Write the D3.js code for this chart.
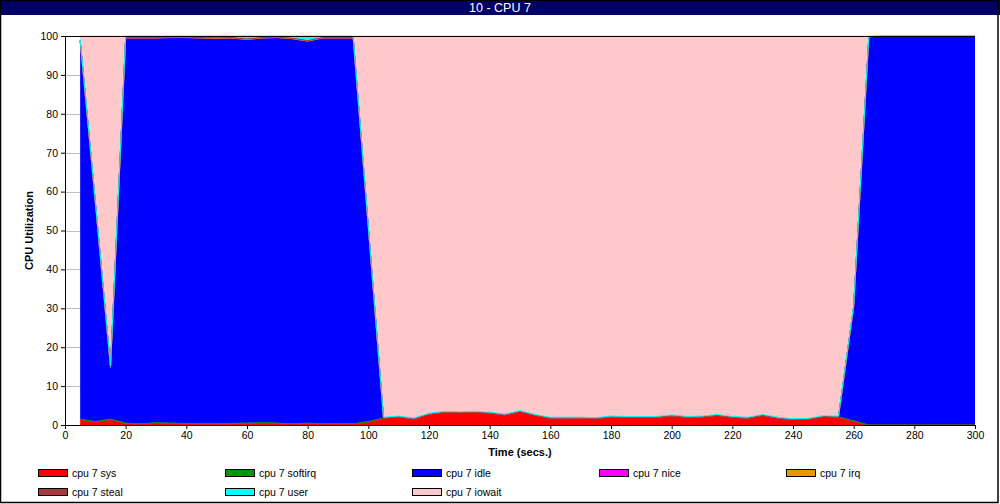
<!DOCTYPE html>
<html>
<head>
<meta charset="utf-8">
<script src="https://cdn.jsdelivr.net/npm/d3@7/dist/d3.min.js"></script>
<style>
body { margin:0; background:#fff; }
svg { display:block; font-family:'Liberation Sans', Arial, sans-serif; }
</style>
</head>
<body>
<script>
//----
//Data
//----
var times = [5,10,15,20,25,30,35,40,45,50,55,60,65,70,75,80,85,90,95,100,
	105,110,115,120,125,130,135,140,145,150,155,160,165,170,175,180,185,190,195,200,
	205,210,215,220,225,230,235,240,245,250,255,260,265,270,275,280,285,290,295,300]

var sys = [1.2,0.7,1.2,0.3,0.1,0.4,0.3,0.2,0.2,0.2,0.2,0.3,0.4,0.3,0.1,0.3,0.1,0.2,0.1,0.6,
	1.7,2.0,1.5,2.7,3.2,3.1,3.2,3.0,2.5,3.4,2.4,1.7,1.7,1.7,1.6,2.0,1.9,1.9,1.9,2.3,
	1.9,2.0,2.4,1.9,1.7,2.4,1.7,1.3,1.4,2.1,2.0,0.8,0,0,0,0,0,0,0,0]

var softirq = [0.3,0.2,0.3,0.2,0.2,0.2,0.2,0.2,0.2,0.2,0.2,0.2,0.2,0.2,0.2,0.2,0.2,0.2,0.2,0.3,
	0.1,0.1,0.1,0.1,0.1,0.1,0.1,0.1,0.1,0.1,0.1,0.1,0.1,0.1,0.1,0.1,0.1,0.1,0.1,0.1,
	0.1,0.1,0.1,0.1,0.1,0.1,0.1,0.1,0.1,0.1,0.1,0.3,0,0,0,0,0,0,0,0]

var idle = [97.3,56.3,13.3,99.0,99.2,98.9,99.1,99.2,99.1,99.0,99.1,98.6,98.9,99.1,99.0,98.2,99.2,99.1,99.2,49.8,
	0,0,0,0,0,0,0,0,0,0,0,0,0,0,0,0,0,0,0,0,
	0,0,0,0,0,0,0,0,0,0,0,29.3,99.8,100,100,100,100,100,100,100]

var nice = [0,0,0,0,0,0,0,0,0,0,0,0,0,0,0,0,0,0,0,0,
	0,0,0,0,0,0,0,0,0,0,0,0,0,0,0,0,0,0,0,0,
	0,0,0,0,0,0,0,0,0,0,0,0,0,0,0,0,0,0,0,0]

var irq = [0,0,0,0,0,0,0,0,0,0,0,0,0,0,0,0,0,0,0,0,
	0,0,0,0,0,0,0,0,0,0,0,0,0,0,0,0,0,0,0,0,
	0,0,0,0,0,0,0,0,0,0,0,0,0,0,0,0,0,0,0,0]

var steal = [0.1,0.1,0.1,0.1,0.1,0.1,0.1,0.1,0.1,0.1,0.1,0.1,0.1,0.1,0.1,0.1,0.1,0.1,0.1,0.1,
	0,0,0,0,0,0,0,0,0,0,0,0,0,0,0,0,0,0,0,0,
	0,0,0,0,0,0,0,0,0,0,0,0,0,0,0,0,0,0,0,0]

var user = [0.3,0.3,0.3,0.4,0.4,0.4,0.3,0.3,0.4,0.5,0.4,0.8,0.4,0.3,0.6,1.2,0.4,0.4,0.4,0.3,
	0.2,0.2,0.2,0.2,0.2,0.2,0.2,0.2,0.2,0.2,0.2,0.2,0.2,0.2,0.2,0.2,0.2,0.2,0.2,0.2,
	0.2,0.2,0.2,0.2,0.2,0.2,0.2,0.2,0.2,0.2,0.2,0.3,0.2,0,0,0,0,0,0,0]

var iowait = [0.8,42.4,84.8,0,0,0,0,0,0,0,0,0,0,0,0,0,0,0,0,48.9,
	98.0,97.7,98.2,97.0,96.5,96.6,96.5,96.7,97.2,96.3,97.3,98.0,98.0,98.0,98.1,97.7,97.8,97.8,97.8,97.4,
	97.8,97.7,97.3,97.8,98.0,97.3,98.0,98.4,98.3,97.6,97.7,69.3,0,0,0,0,0,0,0,0]

//stack order follows the legend order
var seriesKeys = ['sys','softirq','idle','nice','irq','steal','user','iowait']
var seriesNames = ['cpu 7 sys','cpu 7 softirq','cpu 7 idle','cpu 7 nice','cpu 7 irq','cpu 7 steal','cpu 7 user','cpu 7 iowait']
var seriesColors = ['#ff0000','#009900','#0000ff','#ff00ff','#e69a00','#a33b3b','#00ffff','#ffc8cb']
var seriesValues = [sys, softirq, idle, nice, irq, steal, user, iowait]

var xTicks = [0,20,40,60,80,100,120,140,160,180,200,220,240,260,280,300]
var yTicks = [0,10,20,30,40,50,60,70,80,90,100]

//-----
//Chart
//-----
var _width = 1000,
	_height = 504

var _plot = { left:65, right:975, top:36, bottom:425 }

var _svg = d3.select('body').append('svg')
	.attr('width', _width)
	.attr('height', _height)

//Build the rows for the stack
var rows = times.map(function(t, i){
	var r = { t: t }
	seriesKeys.forEach(function(k, j){ r[k] = seriesValues[j][i] })
	return r
})

var x = d3.scaleLinear().domain([0, 300]).range([_plot.left, _plot.right])
var y = d3.scaleLinear().domain([0, 100]).range([_plot.bottom, _plot.top])

var stacked = d3.stack().keys(seriesKeys)(rows)

//Title bar
_svg.append('rect')
	.attr('x', 0).attr('y', 0)
	.attr('width', _width).attr('height', 15)
	.attr('fill', '#000066')
_svg.append('text')
	.attr('x', _width/2).attr('y', 12)
	.attr('text-anchor', 'middle')
	.attr('fill', '#fff')
	.style('font-size', '12.5px')
	.text('10 - CPU 7')

//Grid lines
_svg.append('g').selectAll('line').data(yTicks).enter().append('line')
	.attr('x1', _plot.left).attr('x2', _plot.right)
	.attr('y1', function(d){ return Math.round(y(d)) + 0.5 })
	.attr('y2', function(d){ return Math.round(y(d)) + 0.5 })
	.attr('stroke', '#c0c0c0')

//Areas
var area = d3.area()
	.x(function(d){ return x(d.data.t) })
	.y0(function(d){ return y(d[0]) })
	.y1(function(d){ return y(d[1]) })

var topLine = d3.line()
	.x(function(d){ return x(d.data.t) })
	.y(function(d){ return y(d[1]) })

var gAreas = _svg.append('g')
gAreas.selectAll('path.area').data(stacked).enter().append('path')
	.classed('area', true)
	.attr('d', area)
	.attr('fill', function(d, i){ return seriesColors[i] })

//Outline of each layer, drawn in stack order
gAreas.selectAll('path.edge').data(stacked).enter().append('path')
	.classed('edge', true)
	.attr('d', topLine)
	.attr('fill', 'none')
	.attr('stroke', function(d, i){ return seriesColors[i] })
	.attr('stroke-width', 1)

//Axes
var yAxis = d3.axisLeft(y).tickValues(yTicks).tickSize(4).tickPadding(3)
var gy = _svg.append('g')
	.attr('transform', 'translate(' + _plot.left + ',0)')
	.call(yAxis)
var xAxis = d3.axisBottom(x).tickValues(xTicks).tickSize(4).tickPadding(3)
var gx = _svg.append('g')
	.attr('transform', 'translate(0,' + _plot.bottom + ')')
	.call(xAxis)

;[gx, gy].forEach(function(g){
	g.select('.domain').remove()
	g.selectAll('line').attr('stroke', '#000')
	g.selectAll('text')
		.attr('fill', '#000')
		.style('font-size', '10.5px')
		.style('font-family', "'Liberation Sans', Arial, sans-serif")
})

//Axis lines and top frame line
_svg.append('line')
	.attr('x1', _plot.left + 0.5).attr('x2', _plot.left + 0.5)
	.attr('y1', _plot.top).attr('y2', _plot.bottom + 0.5)
	.attr('stroke', '#000')
_svg.append('line')
	.attr('x1', _plot.left).attr('x2', _plot.right)
	.attr('y1', _plot.bottom + 0.5).attr('y2', _plot.bottom + 0.5)
	.attr('stroke', '#000')
_svg.append('line')
	.attr('x1', _plot.left).attr('x2', _plot.right)
	.attr('y1', _plot.top + 0.5).attr('y2', _plot.top + 0.5)
	.attr('stroke', '#000')

//Axis titles
_svg.append('text')
	.attr('x', (_plot.left + _plot.right)/2).attr('y', 456)
	.attr('text-anchor', 'middle')
	.style('font-size', '11px').style('font-weight', 'bold')
	.text('Time (secs.)')
_svg.append('text')
	.attr('transform', 'translate(33,' + (_plot.top + _plot.bottom)/2 + ') rotate(-90)')
	.attr('text-anchor', 'middle')
	.style('font-size', '11px').style('font-weight', 'bold')
	.text('CPU Utilization')

//Legend
var gLegend = _svg.append('g')
var legItems = gLegend.selectAll('g').data(seriesNames).enter().append('g')
	.attr('transform', function(d, i){
		return 'translate(' + (38 + (i % 5) * 187) + ',' + (469 + Math.floor(i / 5) * 19) + ')'
	})
legItems.append('rect')
	.attr('x', 0.5).attr('y', 0.5)
	.attr('width', 29).attr('height', 7)
	.attr('fill', function(d, i){ return seriesColors[i] })
	.attr('stroke', '#000')
legItems.append('text')
	.attr('x', 34).attr('y', 8)
	.style('font-size', '10.5px')
	.text(function(d){ return d })

//Outer border
_svg.append('rect')
	.attr('x', 0.5).attr('y', 0.5)
	.attr('width', 997.5).attr('height', 502)
	.attr('fill', 'none')
	.attr('stroke', '#000')
	.attr('stroke-width', 1.5)
</script>
</body>
</html>
